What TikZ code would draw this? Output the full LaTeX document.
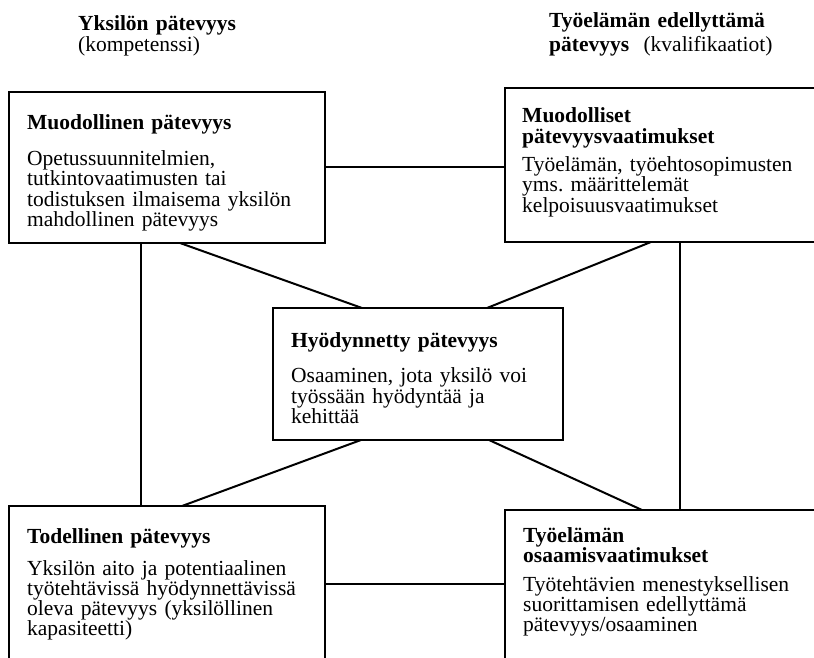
\documentclass[tikz,border=0pt]{standalone}
\usepackage{fontspec}
\setmainfont{Liberation Serif}
\frenchspacing
\begin{document}
\begin{tikzpicture}[x=1pt,y=-1pt,
  box/.style={draw=black, line width=2pt, rectangle, inner sep=0pt, outer sep=0pt, anchor=north west},
  link/.style={draw=black, line width=2pt},
  txt/.style={anchor=base west, inner sep=0pt, align=left, text width=300pt,
    font=\fontsize{21.5}{20.3}\selectfont},
]
\clip (0,0) rectangle (814,658);
\fill[white] (0,0) rectangle (814,658);

% column headings
\node[txt] (hl) at (78,31) {\textbf{Yksilön pätevyys}\\(kompetenssi)};
\node[txt] (hr) at (549,27.5) {\textbf{Työelämän edellyttämä}\\[3.7pt]\textbf{pätevyys}\ \ (kvalifikaatiot)};

% frames
\node[box, minimum width=316pt, minimum height=151pt] (tl) at (9,92) {};
\node[box, minimum width=340pt, minimum height=154pt] (tr) at (505,88) {};
\node[box, minimum width=290pt, minimum height=132pt] (c) at (273,308) {};
\node[box, minimum width=316pt, minimum height=200pt] (bl) at (9,506) {};
\node[box, minimum width=340pt, minimum height=200pt] (br) at (505,510) {};

% frame contents
\node[txt] (tlt) at (27,130) {\textbf{Muodollinen pätevyys}\\[15.4pt]
  Opetussuunnitelmien,\\ tutkintovaatimusten tai\\ todistuksen ilmaisema yksilön\\ mahdollinen pätevyys};
\node[txt] (trt) at (522,123) {\textbf{Muodolliset}\\ \textbf{pätevyysvaatimukset}\\[8pt]
  Työelämän, työehtosopimusten\\ yms. määrittelemät\\ kelpoisuusvaatimukset};
\node[txt] (ct) at (291,347) {\textbf{Hyödynnetty pätevyys}\\[15.4pt]
  Osaaminen, jota yksilö voi\\ työssään hyödyntää ja\\ kehittää};
\node[txt] (blt) at (27,543) {\textbf{Todellinen pätevyys}\\[11.7pt]
  Yksilön aito ja potentiaalinen\\ työtehtävissä hyödynnettävissä\\ oleva pätevyys (yksilöllinen\\ kapasiteetti)};
\node[txt] (brt) at (523,542) {\textbf{Työelämän}\\ \textbf{osaamisvaatimukset}\\[8.5pt]
  Työtehtävien menestyksellisen\\ suorittamisen edellyttämä\\ pätevyys/osaaminen};

% attachment points
\coordinate (blr) at ([yshift=-78pt]bl.north east);
\coordinate (tlv) at ([xshift=132pt]tl.south west);
\coordinate (trv) at ([xshift=175pt]tr.south west);
\coordinate (tld) at ([xshift=171pt]tl.south west);
\coordinate (ctl) at ([xshift=89pt]c.north west);
\coordinate (trd) at ([xshift=146pt]tr.south west);
\coordinate (ctr) at ([xshift=214pt]c.north west);
\coordinate (cbl) at ([xshift=88pt]c.south west);
\coordinate (bld) at ([xshift=173pt]bl.north west);
\coordinate (cbr) at ([xshift=216pt]c.south west);
\coordinate (brd) at ([xshift=137pt]br.north west);

% connectors
\draw[link] (tl.east) -- (tl.east -| tr.west);
\draw[link] (blr) -- (blr -| br.west);
\draw[link] (tlv) -- (tlv |- bl.north);
\draw[link] (trv) -- (trv |- br.north);
\draw[link] (tld) -- (ctl);
\draw[link] (trd) -- (ctr);
\draw[link] (cbl) -- (bld);
\draw[link] (cbr) -- (brd);
\end{tikzpicture}
\end{document}
